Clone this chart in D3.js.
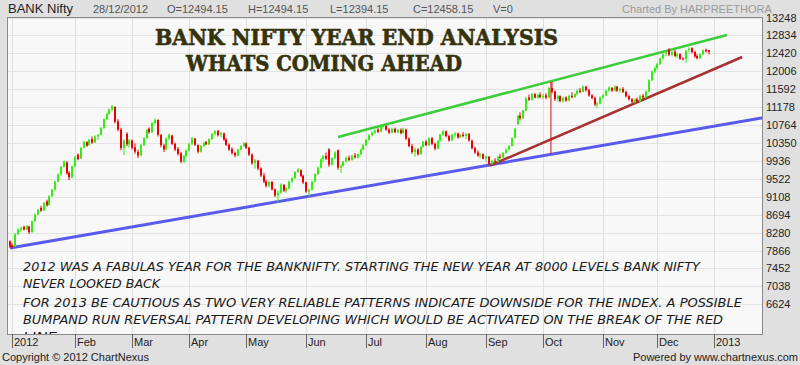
<!DOCTYPE html>
<html><head><meta charset="utf-8">
<script src="https://cdn.jsdelivr.net/npm/d3@7"></script>
<style>body{margin:0;background:#e0e0e0;}svg{display:block}</style>
</head><body><svg id="c" width="800" height="365"></svg>
<script>
// ---------- DATA ----------
const symbol = "BANK Nifty";
const headerFields = ["28/12/2012","O=12494.15","H=12494.15","L=12394.15","C=12458.15","V=0"];
const chartedBy = "Charted By HARPREETHORA";
const monthLabels = ["2012","Feb","Mar","Apr","May","Jun","Jul","Aug","Sep","Oct","Nov","Dec","2013"];
const monthStartIndex = [1,23,43,63,83,104,125,146,167,187,208,227,247];
const yTicks = [13248,12834,12420,12006,11592,11178,10764,10350,9936,9522,9108,8694,8280,7866,7452,7038,6624];
const titleLines = ["BANK NIFTY YEAR END ANALYSIS","WHATS COMING AHEAD"];
const noteLines = [
 "2012 WAS A FABULAS YEAR FOR THE BANKNIFTY. STARTING THE NEW YEAR AT 8000 LEVELS BANK NIFTY",
 "NEVER LOOKED BACK",
 "FOR 2013 BE CAUTIOUS AS TWO VERY RELIABLE PATTERNS INDICATE DOWNSIDE FOR THE INDEX. A POSSIBLE",
 "BUMPAND RUN REVERSAL PATTERN DEVELOPING WHICH WOULD BE ACTIVATED ON THE BREAK OF THE RED",
 "LINE"];
// trend lines in (trading-day index, price)
const supportLine = [[0.2,7925],[264,10936]];
const channelTop = [[115.1,10488],[251.4,12844]];
const bumpLine = [[168.4,9830],[256.7,12336]];
const bumpHeight = [[189.7,11760],[189.7,10088]];
// daily candles [open, high, low, close], 30/12/2011 .. 28/12/2012
const candles = [
[8080,8100,7920,7960],[7990,8030,7915,7950],[7960,8270,7950,8240],[8240,8380,8220,8350],[8350,8420,8300,8390],
[8410,8440,8330,8350],[8350,8460,8340,8430],[8420,8440,8250,8290],[8290,8560,8280,8540],[8540,8720,8530,8700],
[8700,8830,8680,8810],[8850,8900,8760,8790],[8790,8990,8780,8970],[9000,9040,8880,8910],[8920,9140,8900,9120],
[9120,9290,9100,9270],[9270,9480,9250,9460],[9460,9650,9440,9620],[9620,9820,9600,9800],[9800,9950,9780,9920],
[9900,9930,9620,9650],[9660,9700,9490,9560],[9560,9830,9540,9810],
[9810,10050,9800,10020],[10080,10110,9950,9980],[9990,10260,9980,10240],[10240,10400,10230,10380],[10370,10390,10260,10290],
[10300,10450,10290,10420],[10440,10500,10330,10360],[10360,10530,10350,10500],[10500,10560,10420,10540],[10540,10720,10530,10700],
[10700,10920,10680,10900],[10900,11050,10880,11020],[11020,11150,11000,11120],[11120,11230,11080,11200],[11180,11200,10800,10840],
[10850,10900,10620,10660],[10660,10700,10180,10230],[10230,10440,10070,10400],[10560,10600,10280,10320],[10320,10450,10240,10410],
[10410,10430,10200,10240],[10250,10340,10100,10150],[10140,10200,10000,10060],[10060,10330,10040,10300],[10300,10480,10280,10460],
[10460,10680,10440,10650],[10680,10710,10560,10600],[10600,10840,10580,10810],[10810,10920,10780,10880],[10880,10900,10500,10540],
[10530,10560,10250,10300],[10290,10330,10140,10200],[10200,10480,10180,10450],[10450,10570,10420,10540],[10520,10540,10300,10330],
[10330,10360,10160,10200],[10210,10260,10060,10100],[10110,10140,9880,9920],[9920,10080,9880,10050],[10050,10200,10020,10180],
[10180,10350,10160,10330],[10330,10490,10300,10460],[10450,10470,10280,10310],[10300,10320,10110,10150],[10150,10300,10130,10280],
[10280,10380,10250,10350],[10370,10400,10300,10320],[10320,10460,10300,10440],[10440,10580,10420,10560],[10560,10650,10530,10620],
[10630,10650,10500,10530],[10540,10600,10480,10580],[10570,10590,10400,10430],[10430,10460,10280,10310],[10310,10340,10170,10200],
[10210,10250,10080,10120],[10120,10150,10020,10060],[10060,10220,10040,10200],[10200,10300,10180,10280],[10280,10370,10260,10350],
[10340,10360,10210,10240],[10240,10260,10050,10080],[10080,10110,9850,9880],[9880,9980,9760,9950],[9940,9960,9720,9760],
[9760,9790,9560,9600],[9600,9660,9420,9460],[9460,9500,9320,9360],[9360,9480,9320,9450],[9450,9470,9250,9280],
[9280,9300,9100,9140],[9140,9260,8980,9200],[9200,9420,9180,9390],[9380,9400,9220,9250],[9250,9330,9200,9300],
[9300,9480,9280,9460],[9460,9560,9420,9540],[9540,9700,9520,9680],[9680,9770,9660,9740],[9720,9740,9560,9590],
[9590,9620,9400,9440],
[9440,9460,9200,9230],[9230,9300,9120,9270],[9270,9480,9250,9460],[9460,9650,9440,9630],[9630,9800,9610,9780],
[9780,10000,9760,9970],[9980,10080,9900,10050],[10050,10130,9960,9990],[10200,10230,9800,9850],[9850,10020,9830,10000],
[10000,10160,9980,10130],[10180,10200,9730,9780],[9780,9850,9660,9820],[9820,9940,9800,9920],[9920,10040,9900,10010],
[10010,10060,9930,9960],[9960,10080,9940,10050],[10060,10120,9990,10020],[10010,10110,9990,10090],[10090,10220,10070,10200],
[10200,10330,10180,10300],
[10300,10450,10280,10420],[10420,10560,10400,10530],[10530,10620,10500,10590],[10590,10660,10560,10640],[10660,10700,10580,10610],
[10610,10740,10600,10720],[10720,10770,10680,10740],[10740,10760,10630,10660],[10660,10690,10560,10590],[10590,10700,10570,10680],
[10680,10700,10580,10600],[10600,10680,10570,10650],[10650,10690,10550,10580],[10580,10700,10560,10670],[10660,10680,10420,10450],
[10450,10480,10250,10280],[10280,10330,10100,10140],[10140,10240,10030,10200],[10200,10230,10060,10090],[10090,10280,10080,10260],
[10260,10400,10240,10380],
[10380,10420,10280,10300],[10300,10480,10280,10460],[10460,10490,10300,10330],[10330,10360,10180,10220],[10220,10420,10200,10400],
[10400,10560,10380,10540],[10540,10650,10520,10620],[10620,10640,10480,10510],[10510,10540,10380,10410],[10410,10560,10400,10540],
[10540,10600,10480,10570],[10570,10590,10450,10480],[10480,10560,10460,10540],[10540,10600,10480,10510],[10510,10580,10440,10560],
[10560,10580,10380,10410],[10400,10430,10200,10230],[10230,10260,10100,10130],[10130,10180,10030,10060],[10060,10120,10000,10090],
[10090,10110,9970,9990],
[9990,10060,9930,10040],[10030,10050,9840,9870],[9870,9960,9850,9940],[9940,10000,9900,9920],[9920,10050,9900,10030],
[10030,10100,9990,10010],[10010,10140,10000,10120],[10120,10220,10100,10200],[10200,10300,10180,10280],[10280,10480,10270,10460],
[10470,10700,10460,10680],[10780,11000,10770,10980],[10980,11060,10880,10920],[10920,11120,10900,11100],[11100,11420,11090,11380],
[11400,11470,11320,11350],[11350,11510,11330,11480],[11480,11500,11380,11400],[11400,11490,11370,11460],[11460,11520,11380,11410],
[11410,11480,11360,11440],[11450,11500,11360,11400],[11400,11640,11390,11620],[11620,11760,11500,11540],[11540,11560,11320,11360],
[11360,11460,11300,11430],[11430,11450,11290,11320],[11320,11420,11280,11390],[11400,11430,11300,11330],[11330,11460,11310,11440],
[11440,11520,11380,11410],[11410,11500,11390,11480],[11480,11580,11450,11560],[11560,11620,11500,11530],[11530,11680,11520,11650],
[11650,11670,11540,11570],[11570,11600,11420,11450],[11450,11480,11360,11390],[11390,11420,11200,11240],[11240,11300,11150,11260],
[11260,11420,11240,11400],
[11400,11480,11370,11450],[11450,11580,11430,11560],[11560,11660,11540,11630],[11620,11640,11530,11560],[11560,11680,11540,11650],
[11650,11670,11530,11560],[11560,11620,11510,11600],[11600,11640,11500,11530],[11530,11560,11400,11430],[11430,11460,11330,11360],
[11360,11390,11270,11300],[11300,11380,11260,11350],[11360,11400,11280,11310],[11310,11460,11300,11440],[11440,11480,11370,11400],
[11400,11560,11390,11540],[11540,11820,11530,11800],[11800,12020,11780,12000],[12000,12120,11960,12080],
[12080,12200,12050,12170],[12170,12320,12150,12300],[12300,12420,12280,12400],[12400,12460,12350,12430],[12500,12540,12360,12390],
[12390,12480,12350,12450],[12460,12500,12330,12360],[12360,12430,12310,12400],[12400,12420,12270,12300],[12300,12330,12260,12290],
[12290,12500,12200,12480],[12500,12560,12450,12530],[12540,12560,12420,12450],[12450,12480,12320,12350],[12360,12400,12280,12310],
[12310,12420,12290,12400],[12400,12510,12380,12490],[12500,12530,12440,12470],[12494.15,12494.15,12394.15,12458.15]
];

// ---------- LAYOUT ----------
const svg = d3.select("#c");
const L = 7, R = 763, T = 17, B = 334;
const x = d3.scaleLinear().domain([-0.876, 264.0]).range([L, R]);
const y = d3.scaleLinear().domain([5950, 13248]).range([333.5, 17.5]);
const font = "Arial, 'Liberation Sans', sans-serif";

svg.append("rect").attr("width",800).attr("height",365).attr("fill","#e0e0e0");
svg.append("rect").attr("x",L).attr("y",T).attr("width",R-L).attr("height",B-T).attr("fill","#f8f8f8");

svg.append("clipPath").attr("id","plot").append("rect").attr("x",L).attr("y",T).attr("width",R-L).attr("height",B-T);
const g = svg.append("g").attr("clip-path","url(#plot)");

// grid
g.selectAll(".hg").data(yTicks).join("line")
 .attr("x1",L).attr("x2",R).attr("y1",d=>Math.round(y(d))+0.5).attr("y2",d=>Math.round(y(d))+0.5)
 .attr("stroke","#e3e3e3").attr("stroke-width",1);
g.selectAll(".vg").data(monthStartIndex).join("line")
 .attr("x1",d=>Math.round(x(d))+0.5).attr("x2",d=>Math.round(x(d))+0.5).attr("y1",T).attr("y2",B)
 .attr("stroke","#dedede").attr("stroke-width",1);

// title
const tl = [{t:titleLines[0],x:155,y:45,w:403},{t:titleLines[1],x:186,y:71,w:276}];
g.selectAll(".title").data(tl).join("text")
 .attr("x",d=>d.x).attr("y",d=>d.y).text(d=>d.t)
 .attr("textLength",d=>d.w).attr("lengthAdjust","spacingAndGlyphs")
 .attr("font-family","'DejaVu Serif', serif").attr("font-weight","bold").attr("font-size",22)
 .attr("fill","#35330c").attr("stroke","#35330c").attr("stroke-width",0.6);

// trend lines
const line = d3.line().x(d=>x(d[0])).y(d=>y(d[1]));
g.append("path").attr("d",line(supportLine)).attr("stroke","#5a5aee").attr("stroke-width",3).attr("fill","none");
g.append("path").attr("d",line(channelTop)).attr("stroke","#3ccc3c").attr("stroke-width",2.5).attr("fill","none");
g.append("path").attr("d",line(bumpLine)).attr("stroke","#a83232").attr("stroke-width",2.5).attr("fill","none");
g.append("path").attr("d",line(bumpHeight)).attr("stroke","#d01010").attr("stroke-width",1).attr("fill","none");

// candles
const cg = g.append("g");
candles.forEach((c,i)=>{
  const cx = Math.round(x(i));
  const col = c[3] >= c[0] ? "#33ee11" : "#ee0000";
  cg.append("rect").attr("x",cx-0.5).attr("width",1)
    .attr("y",y(c[1])).attr("height",Math.max(1,y(c[2])-y(c[1]))).attr("fill",col);
  const top = y(Math.max(c[0],c[3])), bot = y(Math.min(c[0],c[3]));
  cg.append("rect").attr("x",cx-1).attr("width",2)
    .attr("y",top).attr("height",Math.max(1,bot-top)).attr("fill",col);
});

// note text
const nl = [{x:23,y:271,w:677},{x:23,y:288,w:137},{x:23,y:307,w:719},{x:23,y:324,w:700},{x:23,y:341,w:34}];
g.selectAll(".note").data(noteLines).join("text")
 .attr("x",(d,i)=>nl[i].x).attr("y",(d,i)=>nl[i].y).text(d=>d)
 .attr("textLength",(d,i)=>nl[i].w).attr("lengthAdjust","spacingAndGlyphs")
 .attr("font-family","'DejaVu Sans', sans-serif").attr("font-style","italic").attr("font-size",13)
 .attr("fill","#1a1a1a");

// frame
svg.append("rect").attr("x",L+0.5).attr("y",T+0.5).attr("width",R-L-1).attr("height",B-T).attr("fill","none").attr("stroke","#8a8a8a");

// right axis
svg.selectAll(".yl").data(yTicks).join("text")
 .attr("x",766).attr("y",d=>y(d)+4).text(d=>d)
 .attr("font-family",font).attr("font-size",11).attr("fill","#222");

// bottom axis
svg.selectAll(".xt").data(monthStartIndex).join("line")
 .attr("x1",d=>Math.round(x(d))+0.5).attr("x2",d=>Math.round(x(d))+0.5).attr("y1",B).attr("y2",348)
 .attr("stroke","#666");
svg.selectAll(".xl").data(monthLabels).join("text")
 .attr("x",(d,i)=>Math.round(x(monthStartIndex[i]))+2).attr("y",346).text(d=>d)
 .attr("font-family",font).attr("font-size",11).attr("fill","#222");

// header
svg.append("text").attr("x",8).attr("y",13).text(symbol).attr("font-family",font).attr("font-size",13).attr("fill","#222");
const hx = [93,167,248,330,413,493];
svg.selectAll(".hf").data(headerFields).join("text")
 .attr("x",(d,i)=>hx[i]).attr("y",13).text(d=>d)
 .attr("font-family",font).attr("font-size",11).attr("fill","#555");
svg.append("text").attr("x",622).attr("y",13).text(chartedBy).attr("font-family",font).attr("font-size",11).attr("fill","#9a9a9a");

// footer
svg.append("text").attr("x",2).attr("y",361).text("Copyright © 2012 ChartNexus").attr("font-family",font).attr("font-size",11).attr("fill","#222");
svg.append("text").attr("x",798).attr("y",361).attr("text-anchor","end").text("Powered by www.chartnexus.com").attr("font-family",font).attr("font-size",11).attr("fill","#222");
</script></body></html>
